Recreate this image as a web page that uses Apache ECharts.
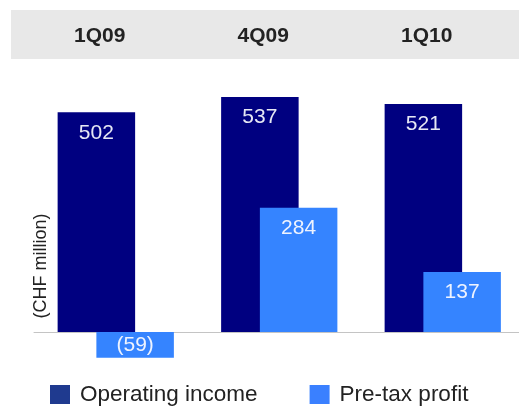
<!DOCTYPE html>
<html>
<head>
<meta charset="utf-8">
<script src="https://cdn.jsdelivr.net/npm/echarts@6/dist/echarts.min.js"></script>
<style>
  html, body { margin: 0; padding: 0; background: #fff; }
  #chart { width: 519px; height: 406px; }
</style>
</head>
<body>
<div id="chart"></div>
<script>
const FONT = "'Liberation Sans', Arial, sans-serif";
const OPERATING_COLOR = "#000080";
const PRETAX_COLOR = "#3584ff";

const quarters = ["1Q09", "4Q09", "1Q10"];
const operatingIncome = [502, 537, 521];
const pretaxProfit = [-59, 284, 137];

const chart = echarts.init(document.getElementById("chart"));

const fmt = (p) => (p.value < 0 ? "(" + Math.abs(p.value) + ")" : String(p.value));

chart.setOption({
  animation: false,
  backgroundColor: "#ffffff",
  textStyle: { fontFamily: FONT },
  grid: { left: 34, width: 490.5, top: 69.4, bottom: 30.2, outerBoundsMode: "none", containLabel: false },
  graphic: [
    // grey header band behind the quarter labels
    { type: "rect", left: 11, top: 10, z: -1, shape: { width: 508, height: 49 }, style: { fill: "#e8e8e8" } },
    {
      type: "text", x: 41, y: 266, rotation: Math.PI / 2,
      style: { text: "(CHF million)", font: "18px " + FONT, fill: "#222", align: "center", verticalAlign: "middle" },
    },
  ],
  legend: {
    left: 45,
    top: 378,
    icon: "rect",
    itemWidth: 20,
    itemHeight: 19,
    itemGap: 52,
    textStyle: { fontSize: 22.5, color: "#222", fontFamily: FONT, padding: [0, 0, 0, 5] },
    data: [
      { name: "Operating income", itemStyle: { color: "#1f3a8f" } },
      { name: "Pre-tax profit", itemStyle: { color: "#3a80ff" } },
    ],
  },
  xAxis: [
    {
      type: "category",
      data: quarters,
      axisLine: { onZero: true, lineStyle: { color: "#c4c4c4", width: 1 } },
      axisTick: { show: false },
      axisLabel: { show: false },
    },
    {
      type: "category",
      position: "top",
      data: quarters,
      axisLine: { show: false },
      axisTick: { show: false },
      axisLabel: {
        margin: 23,
        padding: [0, 32, 0, 0],
        fontSize: 21,
        fontWeight: "bold",
        color: "#222",
        fontFamily: FONT,
      },
    },
  ],
  yAxis: {
    type: "value",
    min: -100,
    max: 600,
    show: false,
    splitLine: { show: false },
  },
  series: [
    {
      name: "Operating income",
      type: "bar",
      data: operatingIncome,
      barWidth: 77.5,
      barGap: "-50%",
      itemStyle: { color: OPERATING_COLOR },
      label: {
        show: true,
        position: "insideTop",
        distance: 10,
        fontSize: 21,
        color: "#e6e8f4",
        fontFamily: FONT,
        formatter: fmt,
      },
    },
    {
      name: "Pre-tax profit",
      type: "bar",
      data: pretaxProfit.map((v) => (v < 0 ? { value: v, label: { position: "inside" } } : v)),
      barWidth: 77.5,
      itemStyle: { color: PRETAX_COLOR },
      label: {
        show: true,
        position: "insideTop",
        distance: 10,
        fontSize: 21,
        color: "#eef3ff",
        fontFamily: FONT,
        formatter: fmt,
      },
    },
  ],
});
</script>
</body>
</html>
